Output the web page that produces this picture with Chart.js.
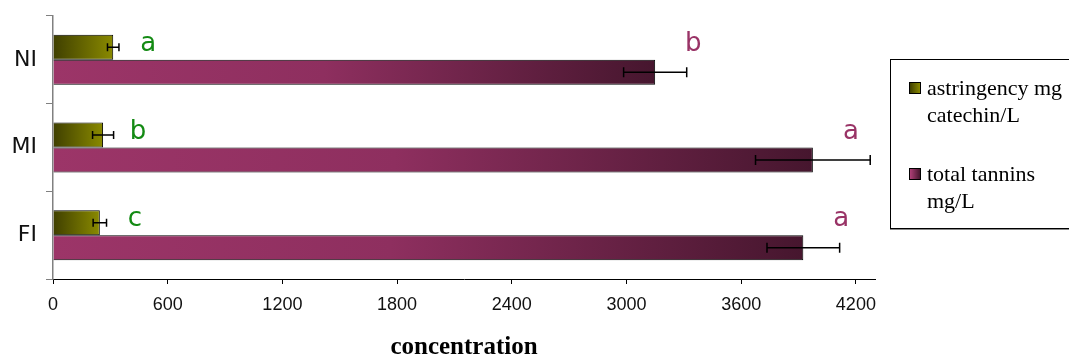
<!DOCTYPE html>
<html>
<head>
<meta charset="utf-8">
<script src="https://cdn.jsdelivr.net/npm/chart.js@4"></script>
<style>
  body { margin: 0; background: #fff; }
  #wrap { position: relative; width: 1069px; height: 358px; overflow: hidden; }
  #legend {
    position: absolute; left: 890px; top: 59px; width: 200px; height: 170px;
    box-sizing: border-box; border: 1px solid #000; box-shadow: 0 1px 0 #888;
    font-family: "Liberation Serif", "Times New Roman", serif; font-size: 22px;
    line-height: 27px; color: #000;
  }
  .item { position: absolute; left: 36px; white-space: nowrap; }
  .sw { position: absolute; left: -18px; top: 8px; width: 10px; height: 10px; border: 1px solid #000; }
</style>
</head>
<body>
<div id="wrap">
  <canvas id="chart" width="1069" height="358"></canvas>
  <div id="legend"></div>
</div>
<script>
    // --- DATA ---
    const categories = ['NI', 'MI', 'FI'];
    const seriesNames = [['astringency mg', 'catechin/L'], ['total tannins', 'mg/L']];
    const astringency = [315, 262, 245];
    const astringencyErr = [30, 55, 35];
    const tannins = [3150, 3975, 3925];
    const tanninsErr = [165, 300, 190];
    const astringencyLetters = ['a', 'b', 'c'];
    const tanninsLetters = ['b', 'a', 'a'];
    const xTicks = [0, 600, 1200, 1800, 2400, 3000, 3600, 4200];

    // gradient stops for the two series
    const oliveStops = [[0, '#3f3f00'], [1, '#8a8a00']];
    const plumStops = [[0, '#9c3568'], [0.45, '#8e2f5f'], [1, '#46162e']];

    function barGradient(stops, fallback) {
        return function(ctx) {
            const chart = ctx.chart;
            const xs = chart.scales.x;
            if (!chart.chartArea || !xs || ctx.type !== 'data') return fallback;
            const x0 = xs.getPixelForValue(0);
            const x1 = xs.getPixelForValue(ctx.raw);
            if (!isFinite(x0) || !isFinite(x1) || x1 <= x0) return fallback;
            const g = chart.ctx.createLinearGradient(x0, 0, x1, 0);
            stops.forEach(s => g.addColorStop(s[0], s[1]));
            return g;
        };
    }

    // error bars + significance letters
    const annotate = {
        id: 'annotate',
        afterDatasetsDraw(chart) {
            const c = chart.ctx;
            const xs = chart.scales.x;
            const sets = [
                { vals: astringency, errs: astringencyErr, cap: 8 },
                { vals: tannins, errs: tanninsErr, cap: 10 }
            ];
            c.save();
            c.strokeStyle = '#000';
            c.lineWidth = 1.5;
            sets.forEach((s, di) => {
                chart.getDatasetMeta(di).data.forEach((bar, i) => {
                    const lo = xs.getPixelForValue(s.vals[i] - s.errs[i]);
                    const hi = xs.getPixelForValue(s.vals[i] + s.errs[i]);
                    c.beginPath();
                    c.moveTo(lo, bar.y); c.lineTo(hi, bar.y);
                    c.moveTo(lo, bar.y - s.cap / 2); c.lineTo(lo, bar.y + s.cap / 2);
                    c.moveTo(hi, bar.y - s.cap / 2); c.lineTo(hi, bar.y + s.cap / 2);
                    c.stroke();
                });
            });

            c.font = '26px "DejaVu Sans", Verdana, sans-serif';
            c.textAlign = 'center';
            c.textBaseline = 'middle';
            const topBars = chart.getDatasetMeta(0).data;
            const lowBars = chart.getDatasetMeta(1).data;
            topBars.forEach((bar, i) => {
                c.fillStyle = '#138a13';
                c.fillText(astringencyLetters[i], bar.x + 35, bar.y - 3);
                c.fillStyle = '#993366';
                c.fillText(tanninsLetters[i], lowBars[i].x + 38, bar.y - 3);
            });
            c.restore();
        }
    };

    // --- CHART ---
    const ctx = document.getElementById('chart').getContext('2d');
    new Chart(ctx, {
        type: 'bar',
        data: {
            labels: categories,
            datasets: [
                {
                    label: seriesNames[0].join(' '),
                    data: astringency,
                    backgroundColor: barGradient(oliveStops, '#808000'),
                    borderColor: '#000',
                    borderWidth: 1
                },
                {
                    label: seriesNames[1].join(' '),
                    data: tannins,
                    backgroundColor: barGradient(plumStops, '#993366'),
                    borderColor: '#000',
                    borderWidth: 1
                }
            ]
        },
        options: {
            indexAxis: 'y',
            responsive: false,
            animation: false,
            layout: { padding: { top: 16, right: 194, left: 0, bottom: 0 } },
            datasets: { bar: { categoryPercentage: 0.57, barPercentage: 1 } },
            plugins: {
                legend: { display: false },
                tooltip: { enabled: false }
            },
            scales: {
                x: {
                    min: 0,
                    max: 4300,
                    afterBuildTicks: s => { s.ticks = xTicks.map(v => ({ value: v })); },
                    afterFit: s => { s.height = 79; s.paddingLeft = 0; s.paddingRight = 0; },
                    grid: { drawOnChartArea: false, tickLength: 5, color: '#000' },
                    border: { color: '#000', width: 1 },
                    ticks: {
                        font: { family: '"Liberation Sans", Arial, sans-serif', size: 18 },
                        color: '#111',
                        padding: 10,
                        maxRotation: 0,
                        callback: v => String(v)
                    },
                    title: {
                        display: true,
                        text: 'concentration',
                        color: '#000',
                        font: { family: '"Liberation Serif", "Times New Roman", serif', size: 25, weight: 'bold', lineHeight: 0.8 },
                        padding: { top: 0, bottom: 0 }
                    }
                },
                y: {
                    afterFit: s => { s.width = 53; s.paddingTop = 0; s.paddingBottom = 0; },
                    grid: { offset: true, drawOnChartArea: false, tickLength: 7, color: '#808080' },
                    border: { color: '#808080', width: 1.5 },
                    ticks: {
                        font: { family: '"DejaVu Sans", Verdana, sans-serif', size: 22 },
                        color: '#111',
                        padding: 9
                    }
                }
            }
        },
        plugins: [annotate]
    });

    // --- LEGEND ---
    const legendSwatches = [
        'linear-gradient(to right, #3f3f00, #8a8a00)',
        'linear-gradient(to right, #b04078, #46162e)'
    ];
    const legendTops = [14, 100];
    const legend = document.getElementById('legend');
    seriesNames.forEach((lines, i) => {
        const item = document.createElement('div');
        item.className = 'item';
        item.style.top = legendTops[i] + 'px';
        const sw = document.createElement('span');
        sw.className = 'sw';
        sw.style.background = legendSwatches[i];
        item.appendChild(sw);
        lines.forEach((t, j) => {
            if (j) item.appendChild(document.createElement('br'));
            item.appendChild(document.createTextNode(t));
        });
        legend.appendChild(item);
    });
</script>
</body>
</html>
